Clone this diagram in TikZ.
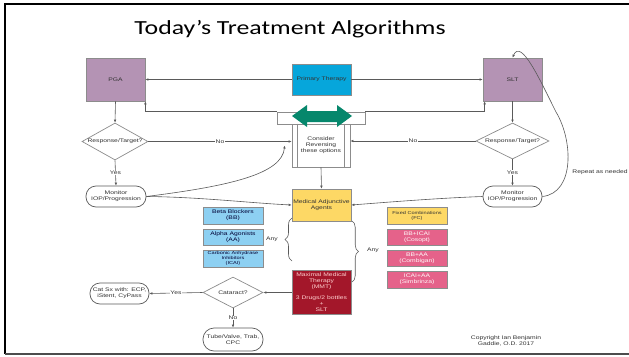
\documentclass[tikz,border=0pt]{standalone}
\usepackage{fontspec}
\setmainfont{Liberation Sans}[FakeStretch=1.3]
\newfontfamily\titlefont{Carlito}[FakeStretch=1.29]
\usetikzlibrary{shapes.geometric,arrows.meta,decorations.pathreplacing}
\definecolor{purp}{HTML}{B493B4}
\definecolor{primb}{HTML}{06A6DB}
\definecolor{yel}{HTML}{FDD865}
\definecolor{lblue}{HTML}{8DD0F2}
\definecolor{pinkb}{HTML}{E5628A}
\definecolor{mmtred}{HTML}{A3172A}
\definecolor{grn}{HTML}{06876C}
\definecolor{boxline}{HTML}{8C8C8C}
\definecolor{lineg}{HTML}{5A5A5A}
\definecolor{txt}{HTML}{333333}
\begin{document}
\begin{tikzpicture}[x=1pt,y=-1pt,
  box/.style={rectangle, draw=boxline, line width=0.7pt, inner sep=0pt, align=center,
              text=txt, font=\fontsize{5.2}{6}\selectfont},
  small/.style={font=\fontsize{4.3}{5}\selectfont},
  dia/.style={diamond, draw=boxline, line width=0.7pt, inner sep=0pt, fill=white},
  stad/.style={rectangle, rounded corners=10pt, draw=lineg, line width=0.7pt, inner sep=0pt,
              align=center, text=txt, font=\fontsize{5.2}{6}\selectfont},
  ln/.style={draw=lineg, line width=0.6pt},
  arr/.style={draw=lineg, line width=0.6pt, -{Latex[length=3pt,width=2.6pt]}},
  lab/.style={fill=white, inner sep=0.6pt, text=txt, font=\fontsize{5.2}{6}\selectfont},
  plain/.style={inner sep=0pt, align=center, text=txt, font=\fontsize{5.2}{6}\selectfont}]
\useasboundingbox (0,0) rectangle (629,356);
\fill[white] (0,0) rectangle (629,356);
% frame
\draw[black, line width=1.6pt] (629,4) -- (5,4) -- (5,354);
\draw[black!70, line width=1.2pt] (5,354) -- (629,354);
% title (cut off at its foot, as in the slide)
\begin{scope}
\clip (0,0) rectangle (629,37.5);
\node[anchor=base, inner sep=0pt, font=\titlefont\fontsize{20}{24}\selectfont] (title) at (290,34) {Today’s Treatment Algorithms};
\end{scope}
% top row
\node[box, fill=purp, minimum width=59pt, minimum height=43pt] (pga) at (115.5,79.5) {PGA};
\node[box, fill=primb, minimum width=59pt, minimum height=31pt] (prim) at (321.5,79.5) {Primary Therapy};
\node[box, fill=purp, minimum width=59pt, minimum height=43pt] (slt) at (512.5,79.5) {SLT};
% consider box
\node[box, fill=white, minimum width=88pt, minimum height=12pt] (topbar) at (321,118) {};
\node[box, fill=white, minimum width=58pt, minimum height=43pt] (cons) at (321,145.5) {Consider\\Reversing\\these options};
\draw[boxline, line width=0.7pt] ([xshift=6pt]cons.north west) -- ([xshift=6pt]cons.south west)
  ([xshift=-6pt]cons.north east) -- ([xshift=-6pt]cons.south east);
\fill[grn] (292,116) -- (307,105) -- (307,111) -- (337,111) -- (337,105) -- (352,116)
  -- (337,127) -- (337,122) -- (307,122) -- (307,127) -- cycle;
% diamonds and monitors
\node[dia, minimum width=66pt, minimum height=37pt,
  label={[plain]center:Response/Target?}] (dl) at (115,141.5) {};
\node[dia, minimum width=73pt, minimum height=36pt,
  label={[plain]center:Response/Target?}] (dr) at (512.5,141) {};
\node[stad, minimum width=60pt, minimum height=21pt] (monl) at (116,196.5) {Monitor\\IOP/Progression};
\node[stad, minimum width=59pt, minimum height=21pt] (monr) at (512.5,196.5) {Monitor\\IOP/Progression};
% medical
\node[box, fill=yel, minimum width=59pt, minimum height=32pt] (med) at (321.5,205) {Medical Adjunctive\\Agents};
\node[box, fill=lblue, text=black!80!blue, minimum width=60pt, minimum height=17pt] (bb) at (233,215.5) {Beta Blockers\\(BB)};
\node[box, fill=lblue, text=black!80!blue, minimum width=60pt, minimum height=16pt] (aa) at (233,237) {Alpha Agonists\\(AA)};
\node[box, fill=lblue, text=black!80!blue, small, minimum width=60pt, minimum height=17pt] (icai) at (233,258.5) {Carbonic Anhydrase\\Inhibitors\\(ICAI)};
\node[box, fill=yel, small, minimum width=60pt, minimum height=17pt] (fc) at (417,215.5) {Fixed Combinations\\(FC)};
\node[box, fill=pinkb, text=white!90!pink, minimum width=60pt, minimum height=16pt] (cos) at (417,237) {BB+ICAI\\(Cosopt)};
\node[box, fill=pinkb, text=white!90!pink, minimum width=60pt, minimum height=16pt] (comb) at (417,258) {BB+AA\\(Combigan)};
\node[box, fill=pinkb, text=white!90!pink, minimum width=60pt, minimum height=17pt] (simb) at (417,279.5) {ICAI+AA\\(Simbrinza)};
\node[box, fill=mmtred, text=pink!75!white, minimum width=59pt, minimum height=44pt] (mmt) at (321.5,292.5)
  {Maximal Medical\\Therapy\\(MMT)\\[5pt]3 Drugs/2 bottles\\+\\SLT};
% braces
\draw[ln, decorate, decoration={brace, amplitude=7pt}] (292,261) -- (292,218);
\draw[ln, decorate, decoration={brace, amplitude=6.5pt}] (352,221) -- (352,282);
\node[plain] (any1) at (272,239) {Any};
\node[plain] (any2) at (373,250) {Any};
% cataract
\node[dia, minimum width=60pt, minimum height=31pt, label={[plain]center:Cataract?}] (cat) at (233,292.5) {};
\node[stad, minimum width=59pt, minimum height=21pt] (catsx) at (119.5,293.5) {Cat Sx with: ECP,\\iStent, CyPass};
\node[stad, rounded corners=11pt, minimum width=60pt, minimum height=23pt] (tube) at (233,339.5) {Tube/Valve, Trab,\\CPC};
% texts
\node[plain] (copy) at (506,341) {Copyright Ian Benjamin\\Gaddie, O.D. 2017};
\node[plain] (rep) at (600,172) {Repeat as needed};
% connectors
\draw[arr] (prim.west) -- (pga.east);
\draw[arr] (prim.east) -- (slt.west);
\draw[arr] (topbar.north west) -| (pga.south east);
\draw[arr] (topbar.north east) -| ([xshift=2pt]slt.south west);
\draw[arr] (pga.south) -- (dl.north);
\draw[arr] (slt.south) -- (dr.north);
\draw[arr] (dl.east) -- node[lab] {No} ([yshift=4pt]cons.west);
\draw[arr] (dr.west) -- node[lab] {No} ([yshift=4.5pt]cons.east);
\draw[arr] (dl.south) -- node[lab] {Yes} (monl.north);
\draw[arr] (dr.south) -- node[lab] {Yes} (monr.north);
\draw[arr] (monl.east) .. controls (230,186) and (282,174) .. ([xshift=-7pt]cons.west);
\draw[arr] (monl.east) .. controls (200,197) and (250,203) .. (med.west);
\draw[arr] (monr.west) .. controls (440,198) and (390,202) .. (med.east);
\draw[arr] (cons.south) -- (med.north);
\draw[arr] (monr.east) .. controls (575,193) and (573,140) .. (556,112)
  .. controls (540,80) and (521,38) .. (slt.north);
\draw[arr] (mmt.west) -- (cat.east);
\draw[arr] (cat.west) -- node[lab] {Yes} (catsx.east);
\draw[arr] (cat.south) -- node[lab] {No} (tube.north);
\end{tikzpicture}
\end{document}
